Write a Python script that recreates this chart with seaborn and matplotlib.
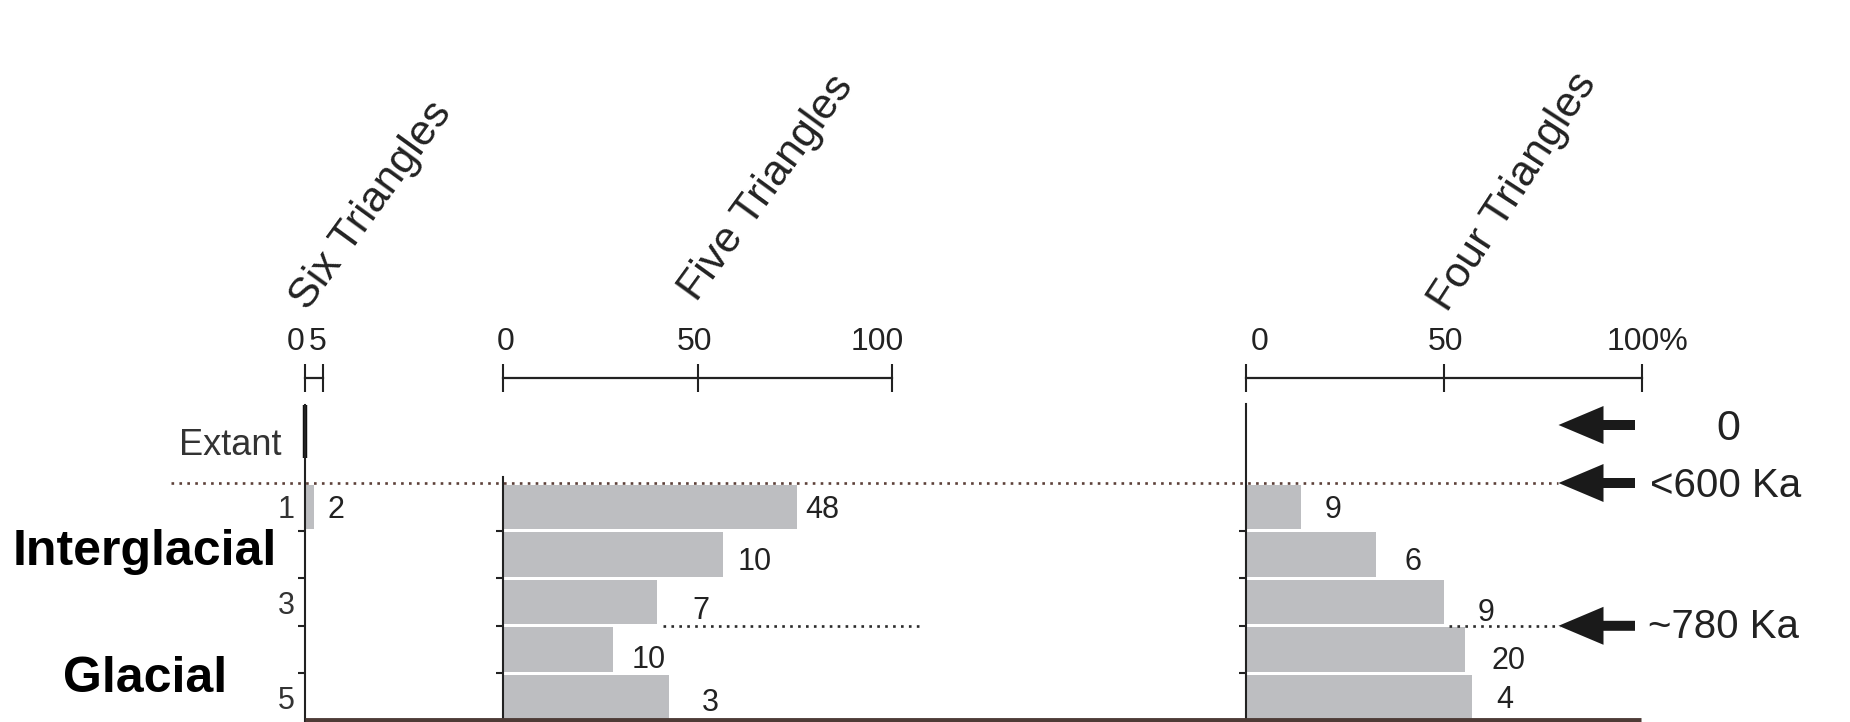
import numpy as np
import pandas as pd
import matplotlib
matplotlib.use("Agg")
import matplotlib.pyplot as plt
import seaborn as sns
from matplotlib.patches import FancyArrow
from matplotlib.transforms import ScaledTranslation

sns.set_style("white")
plt.rcParams['font.family'] = ['Liberation Sans', 'DejaVu Sans']

# data (bar length = percent, label = count)
rows = ['1', '2', '3', '4', '5']
row_order = ['Extant'] + rows
six_pct = [2.6, 0, 0, 0, 0]
six_n = [2, None, None, None, None]
five_pct = [75.6, 56.6, 39.6, 28.3, 42.7]
five_n = [48, 10, 7, 10, 3]
four_pct = [14.1, 33.0, 50.2, 55.4, 57.2]
four_n = [9, 6, 9, 20, 4]
panel_titles = ['Six Triangles', 'Five Triangles', 'Four Triangles']
six_ticks = [0, 5]
pct_ticks = [0, 50, 100]
six_ticklabels = ['0', '5']
five_ticklabels = ['0', '50', '100']
four_ticklabels = ['0', '50', '100%']
age_labels = ['0', '<600 Ka', '~780 Ka']
climate_labels = ['Interglacial', 'Glacial']

# layout (pixels of the 1850x722 canvas)
W, H = 1850, 722
ROW_H = 47.6
Y0 = 483  # pixel of row boundary 0.5
def row_px(y):
    return Y0 + (y - 0.5) * ROW_H

YTOP, YBOT = -1.17, 5.5
bar_color = '#bdbec1'
dot_color = '#5c4039'

fig = plt.figure(figsize=(W / 100, H / 100), dpi=100)
fig.patch.set_facecolor('white')

def make_ax(left_px, width_px):
    top = row_px(YTOP)
    bot = row_px(YBOT)
    return fig.add_axes([left_px / W, (H - bot) / H, width_px / W, (bot - top) / H])

ax6 = make_ax(304.6, 18.6)
ax5 = make_ax(503, 389)
ax4 = make_ax(1245.6, 396)

df = pd.DataFrame({'row': rows * 3,
                   'pct': six_pct + five_pct + four_pct,
                   'panel': ['six'] * 5 + ['five'] * 5 + ['four'] * 5})

panels = [(ax6, 'six', (0, 5), six_ticks, six_ticklabels, six_n, six_pct),
          (ax5, 'five', (0, 100), pct_ticks, five_ticklabels, five_n, five_pct),
          (ax4, 'four', (0, 100), pct_ticks, four_ticklabels, four_n, four_pct)]

# label offsets in pixels (dx right, dy down)
label_off = {'six': [(13, 0)] + [(0, 0)] * 4,
             'five': [(8, 0), (14, 5), (35, 6), (19, 7), (33, 3)],
             'four': [(23, 0), (28, 5), (33, 8), (27, 8), (24, 0)]}
# horizontal nudges of the scale labels (pixels)
tick_shift = {'six': [-8.5, -6], 'five': [3, -3, -15], 'four': [14, 2, 6]}
spine_top = {'six': row_px(-1.14), 'five': 477, 'four': row_px(YTOP)}

for ax, key, xlim, ticks, ticklabels, counts, pcts in panels:
    sub = df[df['panel'] == key]
    sns.barplot(data=sub, x='pct', y='row', order=row_order, color=bar_color,
                saturation=1, width=0.93, orient='h', ax=ax, edgecolor='none')
    ax.set_xlim(*xlim)
    ax.set_ylim(YBOT, YTOP)
    ax.set_facecolor('none')
    ax.set_xlabel('')
    ax.set_ylabel('')
    for s in ['right', 'bottom']:
        ax.spines[s].set_visible(False)
    ax.spines['top'].set_position(('outward', 18.4))
    ax.spines['top'].set_linewidth(1.6)
    ax.spines['top'].set_color('#222222')
    ax.spines['left'].set_linewidth(1.5)
    ax.spines['left'].set_color('#222222')
    ytop_data = (spine_top[key] - Y0) / ROW_H + 0.5
    ax.spines['left'].set_bounds(YBOT, ytop_data)
    ax.xaxis.tick_top()
    ax.set_xticks(ticks)
    ax.set_xticklabels(ticklabels)
    ax.tick_params(axis='x', direction='inout', length=20, width=1.5, pad=5,
                   labelsize=23, colors='#222222')
    ax.set_yticks(range(len(row_order)))
    if key == 'six':
        ax.set_yticklabels(['', '1', '', '3', '', '5'])
    else:
        ax.set_yticklabels([])
    ax.tick_params(axis='y', length=0, pad=7, labelsize=22, labelcolor='#333333')
    ax.set_yticks([1.5, 2.5, 3.5, 4.5], minor=True)
    ax.tick_params(axis='y', which='minor', direction='out', length=5, width=1.5,
                   left=True, color='#222222')
    for tk, sh in zip(ax.xaxis.get_major_ticks(), tick_shift[key]):
        lab = tk.label2
        lab.set_transform(lab.get_transform() + ScaledTranslation(sh / 100, 0, fig.dpi_scale_trans))
    for i, (n, p) in enumerate(zip(counts, pcts)):
        if n is None:
            continue
        dx, dy = label_off[key][i]
        ax.annotate(str(n), xy=(p, i + 1), xytext=(dx, -dy - 3),
                    textcoords='offset pixels', ha='left', va='center',
                    fontsize=22, color='#222222', annotation_clip=False)

# thick Extant segment on the six-triangle axis
ax6.plot([0, 0], [-1.14, -0.03], color='#111111', lw=3.2, clip_on=False,
         solid_capstyle='butt')

# overlay in pixel coordinates for annotations
ov = fig.add_axes([0, 0, 1, 1], zorder=5)
ov.set_xlim(0, W)
ov.set_ylim(H, 0)
ov.axis('off')
ov.patch.set_alpha(0)

# dotted boundary lines
ov.plot([171, 1558], [row_px(0.5)] * 2, ls=(0, (1, 2)), lw=1.9, color=dot_color)
ov.plot([663, 920], [row_px(3.5)] * 2, ls=(0, (1, 2)), lw=1.9, color='#2b2b2b')
ov.plot([1449, 1560], [row_px(3.5)] * 2, ls=(0, (1, 2)), lw=1.9, color='#2b2b2b')

# bottom line
ov.plot([304.6, 1641], [720, 720], color='#4d3b36', lw=3.5, solid_capstyle='butt')

# arrows and age labels
for yy in [425, row_px(0.5), row_px(3.5)]:
    ov.add_patch(FancyArrow(1635, yy, -76.5, 0, width=10, head_width=38,
                            head_length=45, length_includes_head=True,
                            color='#1a1a1a', lw=0))
ov.text(1728, 440, age_labels[0], ha='center', va='baseline', fontsize=31, color='#222222')
ov.text(1650, 497, age_labels[1], ha='left', va='baseline', fontsize=29, color='#222222')
ov.text(1648, 638, age_labels[2], ha='left', va='baseline', fontsize=29, color='#222222')

# row captions
ov.text(282, 455, 'Extant', ha='right', va='baseline', fontsize=26, color='#333333')
ov.text(145, 565, climate_labels[0], ha='center', va='baseline', fontsize=36,
        fontweight='bold', color='black')
ov.text(145, 692, climate_labels[1], ha='center', va='baseline', fontsize=36,
        fontweight='bold', color='black')

# rotated panel titles
for (x, y), t, rot in zip([(308, 312), (697, 303), (1447, 313)], panel_titles, [54, 54, 57]):
    ov.text(x, y, t, rotation=rot, rotation_mode='anchor', ha='left', va='baseline',
            fontsize=31, color='#222222')

fig.savefig('out.png', dpi=100, facecolor=fig.get_facecolor())
